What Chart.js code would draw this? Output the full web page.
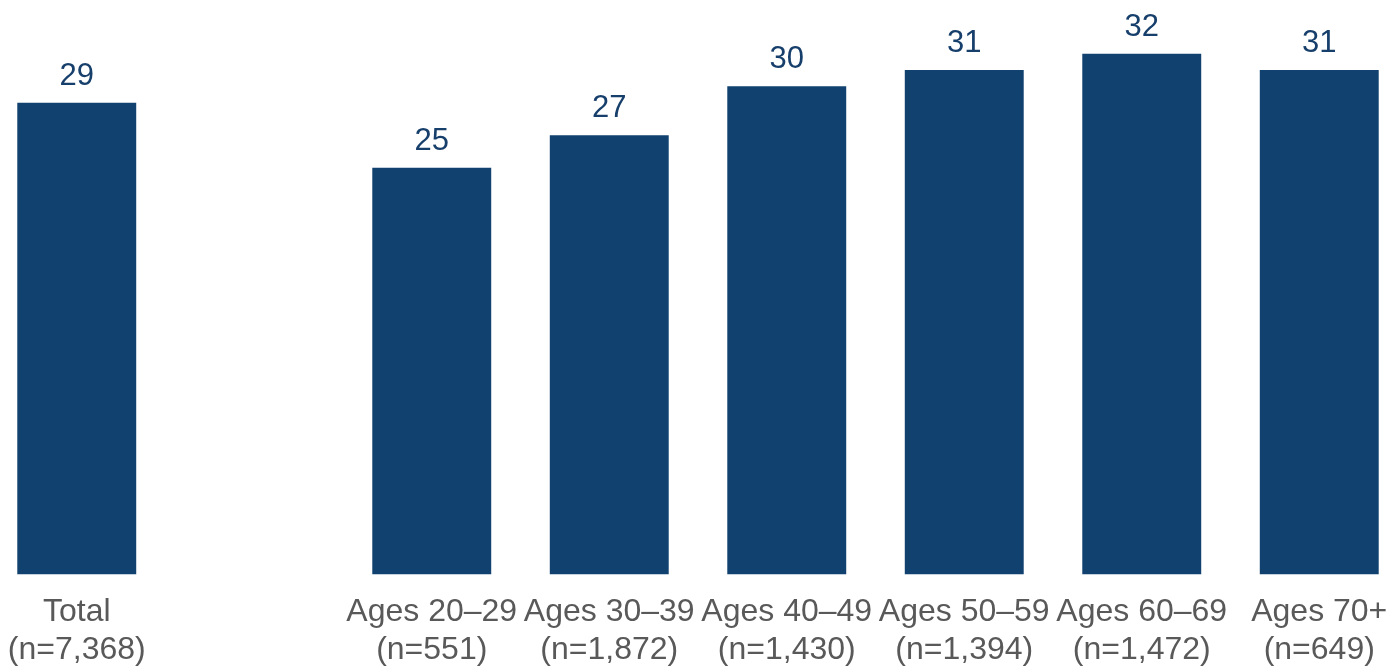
<!DOCTYPE html>
<html>
<head>
<meta charset="utf-8">
<script src="https://cdn.jsdelivr.net/npm/chart.js@4"></script>
<style>
  html, body { margin: 0; padding: 0; background: #fff; overflow: hidden; }
  #wrap { position: absolute; left: -12px; top: 0; width: 1420px; height: 680px; }
</style>
</head>
<body>
<div id="wrap"><canvas id="barChart"></canvas></div>
<script>
// categories (empty slot keeps the gap after Total)
const categories = [
  ["Total", "(n=7,368)"],
  "",
  ["Ages 20–29", "(n=551)"],
  ["Ages 30–39", "(n=1,872)"],
  ["Ages 40–49", "(n=1,430)"],
  ["Ages 50–59", "(n=1,394)"],
  ["Ages 60–69", "(n=1,472)"],
  ["Ages 70+", "(n=649)"],
];
const values = [29, null, 25, 27, 30, 31, 32, 31];

const barColor = "#11416E";
const valueColor = "#173F6B";
const tickColor = "#595959";

// value labels over each bar
const valueLabels = {
  id: "valueLabels",
  afterDatasetsDraw(chart) {
    const ctx = chart.ctx;
    const meta = chart.getDatasetMeta(0);
    ctx.save();
    ctx.font = '31px "Liberation Sans", Arial, sans-serif';
    ctx.fillStyle = valueColor;
    ctx.textAlign = "center";
    ctx.textBaseline = "alphabetic";
    meta.data.forEach((bar, i) => {
      if (values[i] == null) return;
      ctx.fillText(String(values[i]), bar.x, bar.y - 18);
    });
    ctx.restore();
  },
};

const container = document.getElementById("barChart");
const currentChart = new Chart(container, {
  type: "bar",
  data: {
    labels: categories,
    datasets: [
      {
        data: values,
        backgroundColor: barColor,
        borderWidth: 0,
        barPercentage: 0.67,
        categoryPercentage: 1,
      },
    ],
  },
  options: {
    responsive: true,
    maintainAspectRatio: false,
    animation: false,
    layout: { padding: { top: 5, left: 0, right: 0, bottom: 0 } },
    plugins: {
      legend: { display: false },
      tooltip: { enabled: false },
    },
    scales: {
      y: {
        display: false,
        min: 0,
        max: 35,
      },
      x: {
        grid: { display: false },
        border: { display: false },
        ticks: {
          color: tickColor,
          padding: 11,
          maxRotation: 0,
          autoSkip: false,
          font: { family: '"Liberation Sans", Arial, sans-serif', size: 32, lineHeight: 1.18 },
        },
      },
    },
  },
  plugins: [valueLabels],
});
</script>
</body>
</html>
